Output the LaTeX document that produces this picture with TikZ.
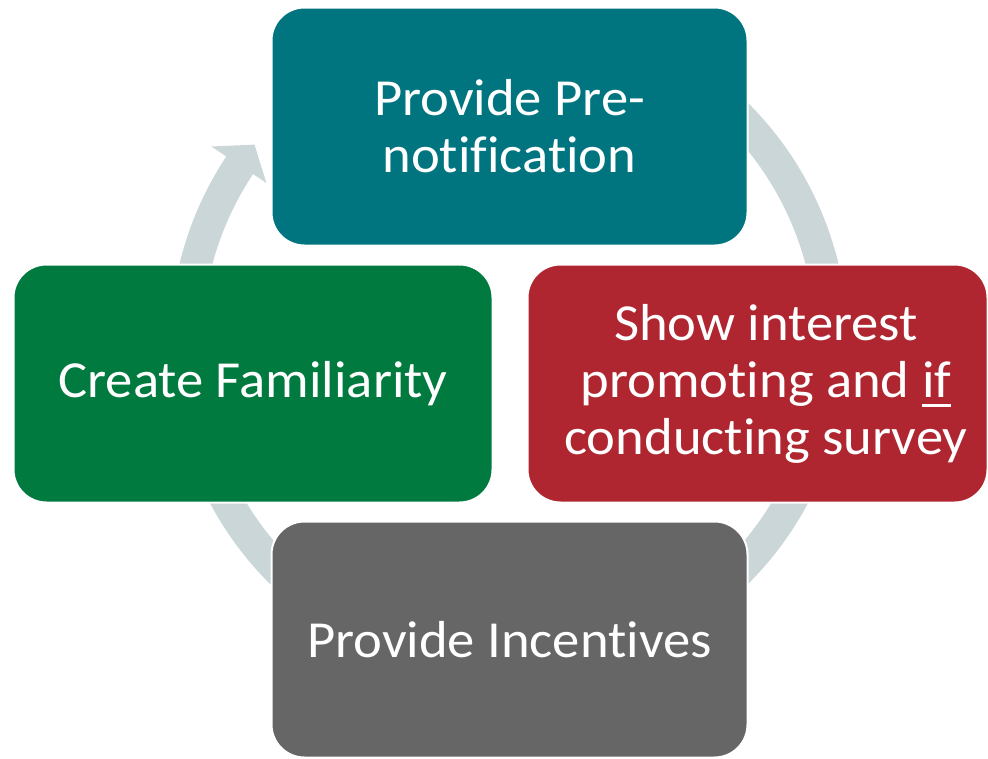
\documentclass[tikz,border=0pt]{standalone}
\usepackage{fontspec}
\setmainfont{Carlito}[FakeStretch=1.05, RawFeature=-liga]
\definecolor{cteal}{HTML}{00747F}
\definecolor{cgreen}{HTML}{007A3E}
\definecolor{cred}{HTML}{B02630}
\definecolor{cgray}{HTML}{666666}
\definecolor{cring}{HTML}{CAD6D8}
\newsavebox\ulbox
\newcommand\myul[1]{\sbox\ulbox{#1}\rlap{\rule[-10pt]{\wd\ulbox}{3pt}}\usebox\ulbox}
\tikzset{
  stepbox/.style={draw=white, line width=2pt, rounded corners=33pt,
    text=white, align=center, inner sep=0pt,
    font=\fontsize{52}{57}\selectfont},
}
\begin{document}
\begin{tikzpicture}[x=1pt,y=1pt]
\useasboundingbox (0,0) rectangle (988,-758);
% ring arrow
\begin{scope}[shift={(509pt,-343.5pt)}]
\fill[cring] (60:339pt) arc[start angle=60, end angle=-213.5, radius=339pt]
  -- (146.5:357pt) -- (142:323pt) -- (146.5:291pt) -- (146.5:307pt)
  arc[start angle=-213.5, end angle=60, radius=307pt] -- cycle;
\end{scope}
% boxes
\node[stepbox, fill=cteal, minimum width=476pt, minimum height=238pt] (top) at (509.5,-126.5) {Provide Pre-\\notification};
\node[stepbox, fill=cgreen, minimum width=479pt, minimum height=238pt] (left) at (253,-383.5) {Create Familiarity};
\node[stepbox, fill=cred, minimum width=460pt, minimum height=238pt] (right) at (757.5,-383.5) {\hspace*{17pt}Show interest\\\hspace*{17pt}promoting and \myul{if}\\\hspace*{17pt}conducting survey};
\node[stepbox, fill=cgray, minimum width=476pt, minimum height=236pt] (bottom) at (509.5,-639.5) {Provide Incentives};
\end{tikzpicture}
\end{document}
